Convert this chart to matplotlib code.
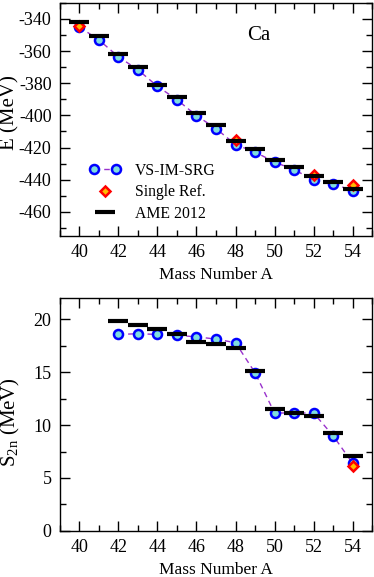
import numpy as np
import matplotlib.pyplot as plt
from matplotlib.ticker import MultipleLocator
from matplotlib.legend_handler import HandlerLine2D

plt.rcParams['font.family'] = ['Liberation Serif', 'DejaVu Serif']
plt.rcParams['mathtext.fontset'] = 'custom'
plt.rcParams['mathtext.rm'] = 'Liberation Serif'
plt.rcParams['mathtext.it'] = 'Liberation Serif:italic'
plt.rcParams['axes.unicode_minus'] = False

# Ground-state energies (MeV)
mass_A = [40, 41, 42, 43, 44, 45, 46, 47, 48, 49, 50, 51, 52, 53, 54]
e_imsrg = [-345.0, -353.0, -363.5, -371.6, -381.9, -390.2, -400.1, -408.2,
           -418.1, -422.8, -429.0, -433.8, -440.0, -442.4, -447.0]
e_ame = [-342.05, -350.42, -361.90, -369.83, -380.96, -388.37, -398.77, -406.05,
         -416.00, -421.14, -427.49, -432.1, -437.9, -441.4, -445.5]
single_A = [40, 48, 52, 54]
e_single = [-344.3, -415.2, -437.3, -443.5]

# Two-neutron separation energies (MeV)
s2n_A = [42, 43, 44, 45, 46, 47, 48, 49, 50, 51, 52, 53, 54]
s2n_imsrg = [18.58, 18.65, 18.58, 18.49, 18.36, 18.14, 17.80, 14.96,
             11.15, 11.15, 11.15, 9.0, 6.4]
s2n_ame = [19.87, 19.46, 19.06, 18.58, 17.86, 17.70, 17.26, 15.12,
           11.56, 11.18, 10.87, 9.23, 7.09]
s2n_single_A = [54]
s2n_single = [6.17]

circ_face = '#7fdede'
dash_col = '#9932cc'

fig = plt.figure(figsize=(3.74, 5.77), dpi=100)
ax1 = fig.add_axes([0.160, 0.591, 0.835, 0.404])
ax2 = fig.add_axes([0.160, 0.080, 0.835, 0.403])


def draw(ax, xa, yi, xs, ys, xe, ye):
    l1, = ax.plot(xa, yi, '--', color=dash_col, lw=1.0, dashes=(4, 3), zorder=2,
                  marker='o', ms=6.5, mfc=circ_face, mec='#0000ff', mew=1.8,
                  label='VS-IM-SRG')
    l2, = ax.plot(xs, ys, 'D', ms=5, mfc='#ffbb00', mec='#ff0000', mew=1.8,
                  zorder=3, label='Single Ref.')
    l3, = ax.plot(xe, ye, '_', color='black', ms=14, mew=3, zorder=4,
                  label='AME 2012')
    return l1, l2, l3


h1 = draw(ax1, mass_A, e_imsrg, single_A, e_single, mass_A, e_ame)
draw(ax2, s2n_A, s2n_imsrg, s2n_single_A, s2n_single, s2n_A, s2n_ame)

for ax in (ax1, ax2):
    ax.set_xlim(39, 55)
    ax.xaxis.set_major_locator(MultipleLocator(2))
    ax.xaxis.set_minor_locator(MultipleLocator(1))
    ax.tick_params(which='both', direction='in', top=True, right=True,
                   labelsize=13, width=1.0, pad=6)
    ax.tick_params(which='major', length=7)
    ax.tick_params(which='minor', length=4)
    ax.set_xlabel('Mass Number A', fontsize=12.5, labelpad=4)
    for s in ax.spines.values():
        s.set_linewidth(1.0)

ax1.set_ylim(-475, -330)
ax1.yaxis.set_major_locator(MultipleLocator(20))
ax1.yaxis.set_minor_locator(MultipleLocator(10))
ax1.set_ylabel('E (MeV)', fontsize=15)
ax1.yaxis.set_label_coords(-0.128, 0.53)
ax1.text(0.60, 0.84, 'Ca', transform=ax1.transAxes, fontsize=15)
ax1.legend(handles=list(h1), loc='lower left', bbox_to_anchor=(0.05, 0.0),
           frameon=False, fontsize=11.3, numpoints=1, handlelength=2.0,
           handletextpad=0.9, labelspacing=0.35,
           handler_map={h1[0]: HandlerLine2D(numpoints=2)})

ax2.set_ylim(0, 22)
ax2.yaxis.set_major_locator(MultipleLocator(5))
ax2.yaxis.set_minor_locator(MultipleLocator(2.5))
ax2.set_ylabel('S$_{\\mathrm{2n}}$ (MeV)', fontsize=15)
ax2.yaxis.set_label_coords(-0.12, 0.47)

fig.savefig('out.png', dpi=100)
